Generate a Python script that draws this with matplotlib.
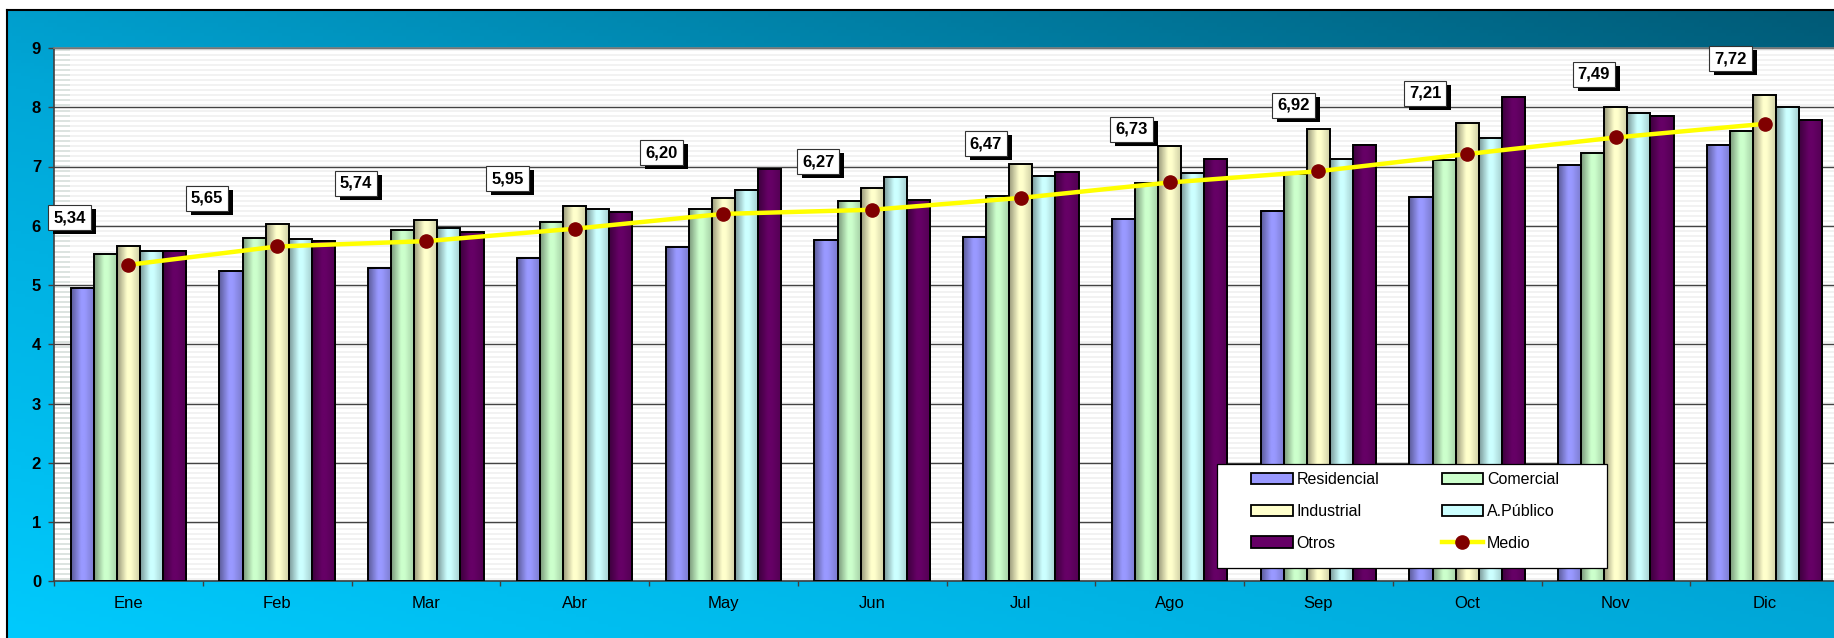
import matplotlib
matplotlib.use("Agg")
import matplotlib.pyplot as plt
import matplotlib.patheffects as pe
import numpy as np
from matplotlib.colors import LinearSegmentedColormap, to_rgb
from matplotlib.lines import Line2D
from matplotlib.patches import Patch, Rectangle

plt.rcParams["font.family"] = ["Liberation Sans", "DejaVu Sans"]

# data
months = ["Ene", "Feb", "Mar", "Abr", "May", "Jun",
          "Jul", "Ago", "Sep", "Oct", "Nov", "Dic"]
series_names = ["Residencial", "Comercial", "Industrial", "A.Público", "Otros"]
residencial = [4.95, 5.23, 5.29, 5.46, 5.64, 5.76, 5.81, 6.11, 6.25, 6.48, 7.03, 7.37]
comercial = [5.52, 5.79, 5.93, 6.06, 6.29, 6.41, 6.51, 6.72, 6.87, 7.11, 7.23, 7.60]
industrial = [5.65, 6.03, 6.09, 6.33, 6.47, 6.64, 7.04, 7.35, 7.63, 7.73, 8.01, 8.21]
alumbrado = [5.57, 5.77, 5.96, 6.29, 6.61, 6.83, 6.84, 6.89, 7.12, 7.48, 7.91, 8.01]
otros = [5.57, 5.74, 5.89, 6.23, 6.96, 6.43, 6.91, 7.13, 7.37, 8.18, 7.85, 7.79]
medio = [5.34, 5.65, 5.74, 5.95, 6.20, 6.27, 6.47, 6.73, 6.92, 7.21, 7.49, 7.72]

series_colors = ["#9999ff", "#ccffcc", "#ffffcc", "#ccffff", "#660066"]

# label box offsets (pixels) relative to each Medio point
label_dx = [-59, -70, -70, -67, -62, -54, -35, -38, -25, -42, -22, -34]
label_dy = [47, 48, 58, 50, 61, 48, 54, 53, 66, 61, 63, 65]

W, H = 1834, 638


def shade(color, n=40):
    """horizontal cylinder-like shading for a bar."""
    t = np.linspace(0, 1, n)
    f = np.interp(t, [0, 0.42, 0.58, 1], [0.6, 1.0, 1.0, 0.8])
    rgb = np.array(to_rgb(color))
    return (rgb[None, :] * f[:, None])[None, :, :]


fig = plt.figure(figsize=(W / 100, H / 100), dpi=100)
fig.patch.set_facecolor("white")

# outer gradient frame
bg = fig.add_axes([7 / W, -0.05, 1.0, 1 - 10 / H + 0.05], zorder=-10)
u = np.linspace(0, 1, 400)
v = np.linspace(0, 1, 200)
U, V = np.meshgrid(u, v)
cmap = LinearSegmentedColormap.from_list("bg", ["#00ccff", "#00a6d6", "#005a76"])
bg.imshow(0.45 * U + 0.55 * V, origin="lower", extent=[0, 1, 0, 1],
          aspect="auto", cmap=cmap, vmin=0, vmax=1)
bg.set_xticks([])
bg.set_yticks([])
for s in bg.spines.values():
    s.set_color("black")
    s.set_linewidth(1.5)

ax = fig.add_axes([54 / W, (H - 581.25) / H, 1785 / W, 533.25 / H])
ax.set_facecolor("white")

# striped texture of the plot area
stripes = np.arange(0.04, 9, 0.085)
ax.hlines(stripes, -0.5, 11.5, color="#efefef", lw=1.1, zorder=0.2)
ax.hlines(stripes, -0.5, -0.39, color="#d6dfdb", lw=1.1, zorder=0.3)

x = np.arange(len(months))
width = 0.155
all_series = [residencial, comercial, industrial, alumbrado, otros]
for k, (name, vals, col) in enumerate(zip(series_names, all_series, series_colors)):
    bars = ax.bar(x + (k - 2) * width, vals, width, facecolor="none",
                  edgecolor="black", linewidth=1.4, zorder=3, label=name)
    for b in bars:
        ax.imshow(shade(col), extent=[b.get_x(), b.get_x() + b.get_width(),
                                      0, b.get_height()],
                  aspect="auto", zorder=2.5, interpolation="bilinear")

ax.plot(x, medio, color="#ffff00", lw=3.2, marker="o", ms=9.5,
        mfc="#800000", mec="#800000", zorder=5, label="Medio")

for i, val in enumerate(medio):
    txt = f"{val:.2f}".replace(".", ",")
    t = ax.annotate(txt, xy=(i, val), xytext=(label_dx[i], label_dy[i]),
                    textcoords="offset pixels", ha="center", va="center",
                    fontsize=12, fontweight="bold", color="black",
                    bbox=dict(boxstyle="square,pad=0.3", fc="white", ec="#333333", lw=0.8),
                    zorder=7, annotation_clip=False)
    t.get_bbox_patch().set_path_effects([
        pe.SimplePatchShadow(offset=(3.6, -2.9), shadow_rgbFace="black", alpha=1.0),
        pe.Normal()])

ax.set_xlim(-0.5, 11.5)
ax.set_ylim(0, 9)
ax.set_yticks(range(10))
ax.set_yticklabels([str(i) for i in range(10)], fontsize=12, fontweight="bold")
ax.yaxis.grid(True, color="#444444", lw=1, zorder=1)
ax.set_axisbelow(True)
ax.tick_params(axis="y", direction="out", length=4.3, width=1, color="#404040", pad=5)

ax.set_xticks(x)
ax.set_xticklabels(months, fontsize=12)
ax.set_xticks(np.arange(-0.5, 12, 1), minor=True)
ax.tick_params(axis="x", which="major", length=0, pad=10.5)
ax.tick_params(axis="x", which="minor", direction="out", length=3.6, width=1, color="#404040")

ax.spines["left"].set_color("#404040")
ax.spines["bottom"].set_color("#404040")
ax.spines["top"].set_color("#808080")
ax.spines["right"].set_visible(False)
for s in ["left", "bottom", "top"]:
    ax.spines[s].set_linewidth(1.2)

# legend frame and entries
fig.add_artist(Rectangle((1217 / W, 70 / H), 390 / W, 104 / H,
                         transform=fig.transFigure, fc="white", ec="black",
                         lw=0.9, zorder=4))
patches = [Patch(fc=c, ec="black", lw=1.3) for c in series_colors]
medio_handle = Line2D([], [], color="#ffff00", lw=3.2, marker="o", ms=9.5,
                      mfc="#800000", mec="#800000")
handles = [patches[0], patches[2], patches[4], patches[1], patches[3], medio_handle]
labels = [series_names[0], series_names[2], series_names[4],
          series_names[1], series_names[3], "Medio"]
fig.legend(handles, labels, loc="upper left",
           bbox_to_anchor=(1251 / W, (H - 472) / H), ncol=2, frameon=False,
           fontsize=11.5, handlelength=2.6, handleheight=0.7, handletextpad=0.25,
           columnspacing=3.9, labelspacing=1.05, borderpad=0, borderaxespad=0)

fig.savefig("out.png", dpi=100)
